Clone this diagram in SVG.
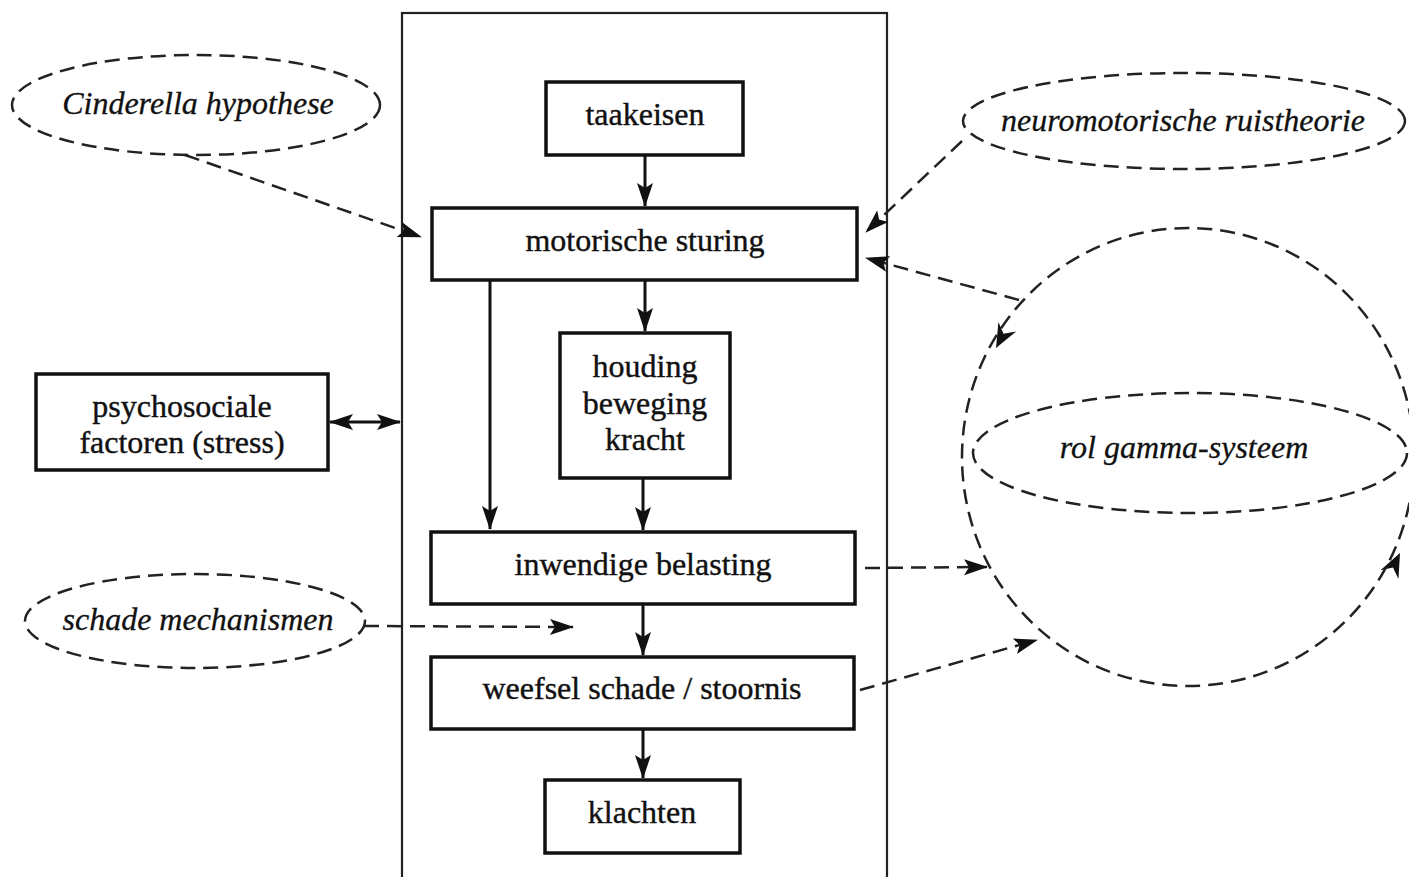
<svg xmlns="http://www.w3.org/2000/svg" width="1409" height="877" viewBox="0 0 1409 877">
<style>
.box{fill:#fff;stroke:#111;stroke-width:3.5}
.frame{fill:none;stroke:#222;stroke-width:2.2}
.t{font-family:"Liberation Serif","Times New Roman",serif;font-size:32px;fill:#111;text-anchor:middle;stroke:#111;stroke-width:0.4}
.i{font-family:"Liberation Serif","Times New Roman",serif;font-size:32px;font-style:italic;fill:#111;text-anchor:middle;stroke:#111;stroke-width:0.3}
.dash{fill:none;stroke:#222;stroke-width:2.5;stroke-dasharray:15 8}
.solid{fill:none;stroke:#111;stroke-width:3}
.hd{fill:#111;stroke:none}
</style>
<defs>
<marker id="a" viewBox="0 0 24 18" refX="23" refY="9" markerWidth="24" markerHeight="18" markerUnits="userSpaceOnUse" orient="auto-start-reverse">
<path d="M0,1 L24,9 L0,17 L5,9 Z" fill="#111"/>
</marker>
<path id="h" d="M0,0 L-24,-10 L-16,0 L-24,10 Z"/>
</defs>
<rect width="1409" height="877" fill="#fff"/>
<rect class="frame" x="402" y="13" width="485" height="880"/>

<g id="connectors">
<line class="solid" x1="645" y1="156" x2="645" y2="206" marker-end="url(#a)"/>
<line class="solid" x1="645" y1="281" x2="645" y2="331" marker-end="url(#a)"/>
<line class="solid" x1="643" y1="479" x2="643" y2="530" marker-end="url(#a)"/>
<line class="solid" x1="643" y1="605" x2="643" y2="655" marker-end="url(#a)"/>
<line class="solid" x1="643" y1="730" x2="643" y2="778" marker-end="url(#a)"/>
<line class="solid" x1="490" y1="281" x2="490" y2="529" marker-end="url(#a)"/>
<line class="solid" x1="330" y1="422" x2="400" y2="422" marker-start="url(#a)" marker-end="url(#a)"/>
<line class="dash" x1="185" y1="155" x2="421" y2="237" marker-end="url(#a)"/>
<line class="dash" x1="364" y1="626" x2="573" y2="627" marker-end="url(#a)"/>
<line class="dash" x1="962" y1="141" x2="866" y2="232" marker-end="url(#a)"/>
<line class="dash" x1="1019" y1="300" x2="866" y2="258" marker-end="url(#a)"/>
<line class="dash" x1="865" y1="568" x2="987" y2="567" marker-end="url(#a)"/>
<line class="dash" x1="860" y1="690" x2="1037" y2="640" marker-end="url(#a)"/>
<use href="#h" class="hd" transform="translate(996,348) rotate(118)"/>
<use href="#h" class="hd" transform="translate(1400,553) rotate(-64)"/>
</g>

<g id="gamma">
<ellipse class="dash" cx="1188" cy="457" rx="226" ry="229"/>
<ellipse class="dash" cx="1190" cy="453" rx="217" ry="60"/>
<text class="i" x="1184" y="458">rol gamma-systeem</text>
</g>
<g id="cinderella">
<ellipse class="dash" cx="196" cy="105" rx="184" ry="50"/>
<text class="i" x="198" y="114">Cinderella hypothese</text>
</g>
<g id="neuromotorisch">
<ellipse class="dash" cx="1184" cy="121" rx="221" ry="48"/>
<text class="i" x="1183" y="131">neuromotorische ruistheorie</text>
</g>
<g id="schade">
<ellipse class="dash" cx="195" cy="621" rx="170" ry="47"/>
<text class="i" x="198" y="630">schade mechanismen</text>
</g>
<g id="taakeisen">
<rect class="box" x="546" y="82" width="197" height="73"/>
<text class="t" x="645" y="125">taakeisen</text>
</g>
<g id="motorische">
<rect class="box" x="432" y="208" width="425" height="72"/>
<text class="t" x="645" y="251">motorische sturing</text>
</g>
<g id="houding">
<rect class="box" x="560" y="333" width="170" height="145"/>
<text class="t" x="645" y="377">houding</text>
<text class="t" x="645" y="414">beweging</text>
<text class="t" x="645" y="450">kracht</text>
</g>
<g id="inwendige">
<rect class="box" x="431" y="532" width="424" height="72"/>
<text class="t" x="643" y="575">inwendige belasting</text>
</g>
<g id="weefsel">
<rect class="box" x="431" y="657" width="423" height="72"/>
<text class="t" x="642" y="699">weefsel schade / stoornis</text>
</g>
<g id="klachten">
<rect class="box" x="545" y="780" width="195" height="73"/>
<text class="t" x="642" y="823">klachten</text>
</g>
<g id="psychosociale">
<rect class="box" x="36" y="374" width="292" height="96"/>
<text class="t" x="182" y="417">psychosociale</text>
<text class="t" x="182" y="453">factoren (stress)</text>
</g>
</svg>
